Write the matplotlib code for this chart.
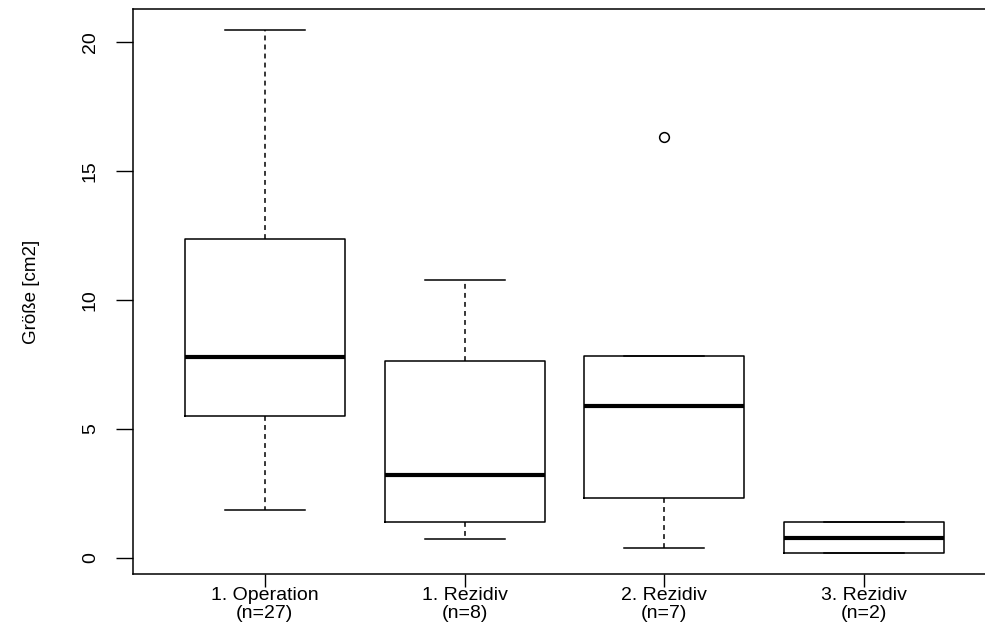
import matplotlib
matplotlib.use("Agg")
import matplotlib.pyplot as plt

plt.rcParams['font.family'] = ['Liberation Sans', 'DejaVu Sans']
plt.rcParams['lines.scale_dashes'] = False

# Kennwerte je Gruppe (Größe in cm2)
gruppen = ["1. Operation\n(n=27)", "1. Rezidiv\n(n=8)", "2. Rezidiv\n(n=7)", "3. Rezidiv\n(n=2)"]
whisker_unten = [1.85, 0.75, 0.38, 0.19]
q1 = [5.5, 1.4, 2.33, 0.19]
median = [7.8, 3.22, 5.91, 0.78]
q3 = [12.35, 7.63, 7.84, 1.38]
whisker_oben = [20.45, 10.78, 7.84, 1.38]
ausreisser = [[], [], [16.33], []]

stats = []
for i in range(len(gruppen)):
    stats.append({
        'whislo': whisker_unten[i], 'q1': q1[i], 'med': median[i],
        'q3': q3[i], 'whishi': whisker_oben[i], 'fliers': ausreisser[i],
    })

fig = plt.figure(figsize=(9.85, 6.29), dpi=100)
ax = fig.add_axes([133 / 985, 1 - 574 / 629, (996 - 133) / 985, (574 - 9) / 629])

ax.bxp(stats, positions=[1, 2, 3, 4], widths=0.8, capwidths=0.4,
       boxprops=dict(color='black', linewidth=1.1),
       medianprops=dict(color='black', linewidth=3.0, solid_capstyle='butt'),
       whiskerprops=dict(color='black', linewidth=1.1, linestyle=(0, (3.5, 3))),
       capprops=dict(color='black', linewidth=1.1),
       flierprops=dict(marker='o', markersize=7, markerfacecolor='none',
                       markeredgecolor='black', markeredgewidth=1.1))

ax.set_xlim(0.34, 4.66)
ax.set_ylim(-0.62, 21.28)
ax.set_yticks([0, 5, 10, 15, 20])
ax.set_yticklabels(['0', '5', '10', '15', '20'], rotation=90, va='center', fontsize=14)
ax.set_xticks([1, 2, 3, 4])
ax.set_xticklabels(gruppen, fontsize=14, linespacing=1.1)
ax.tick_params(axis='y', length=12.5, width=1.0, pad=12)
ax.tick_params(axis='x', length=9.5, width=1.0, pad=0)
for s in ax.spines.values():
    s.set_linewidth(1.1)

ax.set_ylabel('Größe [cm2]', fontsize=13.5, labelpad=30)

fig.savefig('out.png', dpi=100)
